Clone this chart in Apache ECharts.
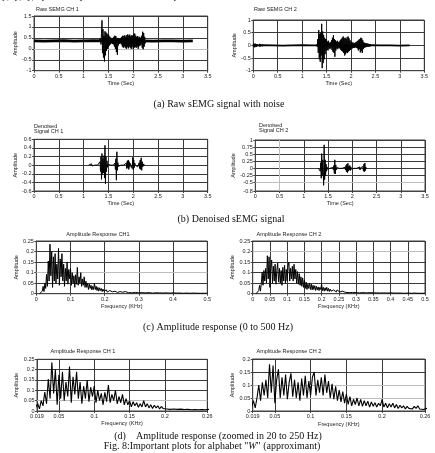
<!DOCTYPE html>
<html>
<head>
<meta charset="utf-8">
<title>sEMG plots - alphabet W</title>
<script src="https://cdn.jsdelivr.net/npm/echarts@6/dist/echarts.min.js"></script>
<style>
  html, body { margin: 0; padding: 0; background: #fff; }
  #chart { width: 435px; height: 453px; }
</style>
</head>
<body>
<div id="chart"></div>
<script>
// ---------- data ----------
// raw / denoised signals: sampled every 10 ms from the given start time (s)
var dt = 0.01;

var baseTimes = [0, 0.2, 0.4, 0.6, 0.8, 1.0, 1.2, 1.4, 1.6, 1.8, 2.0, 2.2, 2.4, 2.6, 2.8, 3.0, 3.2];
var raw1Base = [0.36, 0.35, 0.36, 0.37, 0.35, 0.36, 0.37, 0.36, 0.35, 0.36, 0.37, 0.36, 0.35, 0.36, 0.36, 0.35, 0.36];
var raw2Base = [0.00, 0.01, 0.00, -0.01, 0.00, 0.01, 0.00, 0.00, 0.01, 0.00, -0.01, 0.00, 0.01, 0.00, 0.00, -0.01, 0.00];

var raw1Start = 1.30;
var raw1Burst = [
  0.36, 0.30, 0.44, 0.28, 0.48, 0.20, 0.70, 1.30, -0.20, 0.90,
  -0.40, 0.60, -0.58, 0.80, -0.30, 0.75, -0.10, 0.70, 0.00, 0.65,
  0.10, 0.60, 0.15, 0.55, 0.20, 0.50, 0.25, 0.45, 0.22, 0.50,
  0.20, 0.55, 0.10, 0.60, 0.00, 0.58, -0.15, 0.45, -0.28, 0.50,
  0.15, 0.48, 0.22, 0.45, 0.25, 0.50, 0.20, 0.55, 0.10, 0.60,
  0.05, 0.58, 0.10, 0.62, 0.05, 0.55, 0.00, 0.62, 0.08, 0.66,
  0.02, 0.60, 0.10, 0.65, 0.05, 0.58, 0.00, 0.62, 0.10, 0.60,
  -0.02, 0.68, 0.05, 0.70, 0.08, 0.60, 0.05, 0.55, 0.10, 0.58,
  0.00, 0.52, 0.12, 0.55, 0.15, 0.50, 0.20, 0.60, 0.05, 0.78,
  -0.02, 0.72, 0.10, 0.55, 0.25, 0.40
];

var raw2OnsetStart = 0;
var raw2Onset = [0.08, -0.07, 0.06, -0.08, 0.07, -0.05, 0.05, -0.06, 0.04, -0.03, 0.03,
  0.05, -0.04, 0.06, -0.05, 0.04, -0.03, 0.05, -0.04, 0.03, -0.02];

var raw2Start = 1.30;
var raw2Burst = [
  0.05, -0.06, 0.25, -0.30, 0.60, -0.55, 0.45, -0.65, 0.50, -0.40,
  0.85, -0.90, 0.55, -0.70, 0.40, -0.55, 0.30, -0.35, 0.25, -0.20,
  0.22, -0.18, 0.15, -0.20, 0.18, -0.12, 0.10, -0.15, 0.12, -0.10,
  0.20, -0.18, 0.30, -0.25, 0.40, -0.30, 0.25, -0.45, 0.20, -0.20,
  0.15, -0.12, 0.18, -0.15, 0.12, -0.10, 0.15, -0.12, 0.20, -0.18,
  0.25, -0.22, 0.30, -0.25, 0.35, -0.30, 0.28, -0.40, 0.30, -0.35,
  0.25, -0.28, 0.32, -0.30, 0.35, -0.25, 0.28, -0.22, 0.20, -0.18,
  0.15, -0.12, 0.10, -0.12, 0.12, -0.10, 0.08, -0.10, 0.10, -0.08,
  0.12, -0.10, 0.15, -0.12, 0.18, -0.20, 0.22, -0.15, 0.25, -0.28,
  0.30, -0.22, 0.28, -0.30, 0.20, -0.15, 0.12, -0.10, 0.10, -0.08,
  0.08, -0.07, 0.08, -0.06, 0.07, -0.05, 0.06, -0.05, 0.05, -0.04,
  0.04
];

var den1Start = 1.10;
var den1 = [
  0, 0, 0, 0, 0, 0, 0.03, -0.02, 0, 0,
  0, 0, 0, 0, 0, 0, 0, 0, 0, 0,
  0, 0, 0, 0.08, -0.15, 0.20, -0.33, 0.27, -0.20, 0.15,
  -0.18, 0.22, -0.30, 0.46, -0.43, 0.20, -0.15, 0.10, -0.05, 0.02,
  0, 0, 0, 0, 0, 0, 0, 0, 0, 0,
  0, 0, 0, 0.05, -0.10, 0.15, -0.35, 0.31, -0.12, 0.06,
  -0.03, 0, 0, 0, 0, 0, 0, 0, 0, 0,
  0, 0, 0, 0, 0, 0, 0.05, -0.08, 0.10, -0.06,
  0.12, -0.10, 0.08, -0.05, 0.04, 0, 0, 0.06, -0.08, 0.18,
  -0.10, 0.12, -0.06, 0.05, 0, 0, 0, 0, 0.03, -0.04,
  0, 0, 0.06, -0.08, 0.12, -0.10, 0.17, -0.12, 0.08, -0.04,
  0.03, -0.02, 0.02, -0.02, 0, 0
];

var den2Start = 1.30;
var den2 = [
  0, 0.02, -0.03, 0.05, -0.10, 0.20, -0.35, 0.52, -0.25, 0.30,
  0.25, -0.60, 0.83, -0.40, 0.30, -0.25, 0.15, -0.10, 0.05, -0.03,
  0, 0, 0, 0, 0, 0, 0, 0, 0, 0,
  0.03, -0.05, 0.10, -0.18, 0.30, -0.20, 0.12, -0.06, 0.03, 0,
  0, 0, 0, 0, 0, 0, 0, 0, 0, 0,
  0, 0, 0, 0, 0, 0.04, -0.06, 0.10, -0.12, 0.15,
  -0.15, 0.18, -0.10, 0.08, -0.06, 0.10, -0.08, 0.05, -0.03, 0,
  0, 0, 0, 0, 0, 0, 0, 0, 0, 0,
  0, 0, 0, 0, 0, 0.05, -0.06, 0.02, 0, 0,
  0, 0, 0.06, -0.10, 0.15, -0.12, 0.19, -0.08, 0.04, -0.02,
  0
];

// amplitude spectra (KHz): fine part every 2.5 Hz from 10 Hz, tail every 5 Hz from 265 Hz
var specStart = 0.01, specStep = 0.0025;
var tailStart = 0.265, tailStep = 0.005;

var spec1 = [
  0.000, 0.002, 0.005, 0.012, 0.035, 0.010, 0.050, 0.025, 0.092, 0.035,
  0.155, 0.060, 0.235, 0.085, 0.200, 0.030, 0.175, 0.060, 0.190, 0.050,
  0.140, 0.070, 0.215, 0.040, 0.165, 0.080, 0.190, 0.060, 0.140, 0.035,
  0.120, 0.060, 0.150, 0.045, 0.115, 0.070, 0.120, 0.040, 0.100, 0.050,
  0.085, 0.030, 0.090, 0.045, 0.125, 0.040, 0.080, 0.050, 0.100, 0.035,
  0.070, 0.040, 0.080, 0.030, 0.060, 0.030, 0.050, 0.020, 0.045, 0.025,
  0.040, 0.018, 0.035, 0.020, 0.050, 0.020, 0.035, 0.015, 0.030, 0.012,
  0.028, 0.015, 0.025, 0.010, 0.022, 0.012, 0.020, 0.010, 0.018, 0.008,
  0.016, 0.010, 0.015, 0.008, 0.014, 0.009, 0.013, 0.007, 0.012, 0.008,
  0.011, 0.006, 0.012, 0.007, 0.010, 0.006, 0.011, 0.007, 0.009, 0.006,
  0.010
];
var tail1 = [
  0.009, 0.005, 0.010, 0.004, 0.008, 0.006, 0.009, 0.004, 0.008, 0.005,
  0.009, 0.004, 0.007, 0.005, 0.008, 0.003, 0.007, 0.004, 0.008, 0.004,
  0.007, 0.003, 0.006, 0.004, 0.007, 0.003, 0.006, 0.004, 0.006, 0.003,
  0.005, 0.003, 0.006, 0.002, 0.005, 0.003, 0.005, 0.002, 0.004, 0.003,
  0.005, 0.002, 0.004, 0.002, 0.004, 0.002, 0.003, 0.002
];

var spec2 = [
  0.000, 0.002, 0.006, 0.015, 0.040, 0.012, 0.050, 0.100, 0.040, 0.110,
  0.060, 0.120, 0.050, 0.180, 0.070, 0.175, 0.030, 0.120, 0.160, 0.050,
  0.130, 0.060, 0.140, 0.045, 0.110, 0.145, 0.055, 0.120, 0.050, 0.110,
  0.040, 0.125, 0.060, 0.135, 0.050, 0.115, 0.060, 0.130, 0.150, 0.060,
  0.120, 0.070, 0.130, 0.060, 0.140, 0.070, 0.115, 0.050, 0.105, 0.045,
  0.095, 0.040, 0.080, 0.035, 0.075, 0.030, 0.065, 0.025, 0.055, 0.020,
  0.045, 0.025, 0.050, 0.020, 0.045, 0.018, 0.040, 0.020, 0.038, 0.015,
  0.035, 0.018, 0.032, 0.015, 0.030, 0.020, 0.045, 0.015, 0.030, 0.012,
  0.028, 0.015, 0.030, 0.012, 0.025, 0.010, 0.022, 0.012, 0.020, 0.008,
  0.018, 0.010, 0.016, 0.008, 0.018, 0.010, 0.020, 0.008, 0.014, 0.006,
  0.012
];
var tail2 = [
  0.012, 0.006, 0.014, 0.005, 0.011, 0.006, 0.012, 0.005, 0.010, 0.004,
  0.011, 0.005, 0.009, 0.004, 0.010, 0.005, 0.009, 0.004, 0.008, 0.004,
  0.009, 0.003, 0.008, 0.004, 0.007, 0.003, 0.008, 0.004, 0.007, 0.003,
  0.006, 0.003, 0.007, 0.003, 0.006, 0.002, 0.006, 0.003, 0.005, 0.002,
  0.005, 0.003, 0.005, 0.002, 0.004, 0.002, 0.004, 0.002
];

// tick labels
var zoomTicks = [0.019, 0.05, 0.1, 0.15, 0.2, 0.26];
var den2Ticks = [-0.8, -0.5, -0.25, 0, 0.25, 0.5, 0.75, 1];

// ---------- helpers ----------
function sampled(t0, step, vals) {
  return vals.map(function (v, i) { return [+(t0 + i * step).toFixed(5), v]; });
}
function paired(ts, vals) {
  return ts.map(function (t, i) { return [t, vals[i]]; });
}
var spectrum1 = sampled(specStart, specStep, spec1).concat(sampled(tailStart, tailStep, tail1));
var spectrum2 = sampled(specStart, specStep, spec2).concat(sampled(tailStart, tailStep, tail2));

var SANS = '"Liberation Sans", Arial, sans-serif';
var SERIF = '"Liberation Serif", "Times New Roman", serif';
var FS = 5.5;

// left, top, width, height of each plot area
var boxes = [
  [34, 16, 173.7, 54.7],
  [253.3, 20, 171, 50.7],
  [34, 139.3, 173.7, 51.7],
  [255.3, 140, 169.7, 51],
  [36.3, 241, 171, 52.7],
  [252.7, 241, 172.3, 52.7],
  [37, 359.3, 170.3, 51.7],
  [252.7, 359, 172.3, 52]
];

function axisBase(i, name, gap) {
  return {
    type: 'value', gridIndex: i, name: name, nameLocation: 'middle', nameGap: gap,
    nameTextStyle: { fontSize: FS, color: '#222', fontFamily: SANS },
    axisLine: { show: true, onZero: false, lineStyle: { color: '#444', width: 1 } },
    axisTick: { show: true, length: 2, lineStyle: { color: '#444', width: 1 } },
    axisLabel: { fontSize: FS, color: '#222', margin: 2.5, fontFamily: SANS },
    splitLine: { show: true, lineStyle: { color: '#3a3a3a', width: 1 } }
  };
}
function xAx(i, name, gap, min, max, interval, custom) {
  var a = axisBase(i, name, gap);
  a.min = min; a.max = max;
  if (custom) { a.axisTick.customValues = custom; a.axisLabel.customValues = custom; }
  else a.interval = interval;
  return a;
}
function yAx(i, gap, min, max, interval, custom) {
  var a = axisBase(i, 'Amplitude', gap);
  a.min = min; a.max = max;
  if (custom) { a.axisTick.customValues = custom; a.axisLabel.customValues = custom; }
  else a.interval = interval;
  return a;
}

function lightLines(list) {
  return {
    silent: true, symbol: 'none', z: 1, label: { show: false },
    lineStyle: { color: '#bdbdbd', width: 1, type: 'solid' },
    data: list
  };
}
function line(i, data, width, marks) {
  var s = {
    type: 'line', xAxisIndex: i, yAxisIndex: i, data: data,
    symbol: 'none', showSymbol: false, silent: true, z: 3,
    lineStyle: { color: '#000', width: width }
  };
  if (marks) s.markLine = lightLines(marks);
  return s;
}

function txt(x, y, text, align, size, family, extra) {
  var st = {
    text: text, x: x, y: y, textAlign: align || 'left', textVerticalAlign: 'middle',
    fontSize: size, fontFamily: family, fill: '#222'
  };
  if (extra) for (var k in extra) st[k] = extra[k];
  return { type: 'text', silent: true, style: st };
}

var option = {
  animation: false,
  backgroundColor: '#fff',
  grid: boxes.map(function (b) {
    return { left: b[0], top: b[1], width: b[2], height: b[3], show: true,
             borderColor: '#444', borderWidth: 1, backgroundColor: '#fff' };
  }),
  xAxis: [
    xAx(0, 'Time (Sec)', 9.5, 0, 3.5, 0.5),
    xAx(1, 'Time (Sec)', 8, 0, 3.5, 0.5),
    xAx(2, 'Time (Sec)', 7.3, 0, 3.5, 0.5),
    xAx(3, 'Time (Sec)', 7.3, 0, 3.5, 0.5),
    xAx(4, 'Frequency (KHz)', 9.3, 0, 0.5, 0.1),
    xAx(5, 'Frequency (KHz)', 9.3, 0, 0.5, 0.05),
    xAx(6, 'Frequency (KHz)', 9, 0.019, 0.26, null, zoomTicks),
    xAx(7, 'Frequency (KHz)', 10, 0.019, 0.26, null, zoomTicks)
  ],
  yAxis: [
    yAx(0, 10, -1, 1.5, 0.5),
    yAx(1, 14.6, -1, 1, 0.5),
    yAx(2, 10, -0.6, 0.6, 0.2),
    yAx(3, 16.6, -0.8, 1, null, den2Ticks),
    yAx(4, 12.6, 0, 0.25, 0.05),
    yAx(5, 14, 0, 0.25, 0.05),
    yAx(6, 13.3, 0, 0.25, 0.05),
    yAx(7, 15.4, 0, 0.2, 0.05)
  ],
  series: [
    line(0, paired(baseTimes, raw1Base), 2.8, [{ yAxis: 0 }]),
    line(0, sampled(raw1Start, dt, raw1Burst), 1),
    line(1, paired(baseTimes, raw2Base), 1.6),
    line(1, sampled(raw2OnsetStart, dt, raw2Onset), 0.9),
    line(1, sampled(raw2Start, dt, raw2Burst), 1),
    line(2, sampled(den1Start, dt, den1), 1),
    line(3, sampled(den2Start, dt, den2), 1, [{ yAxis: -0.5 }, { xAxis: 0.5 }]),
    line(4, spectrum1, 1, [{ yAxis: 0.1 }]),
    line(5, spectrum2, 1, [{ yAxis: 0.2 }]),
    line(6, spectrum1, 1.1, [{ yAxis: 0.05 }]),
    line(7, spectrum2, 1.1, [{ yAxis: 0.1 }, { yAxis: 0.05 }])
  ],
  graphic: [
    txt(2, -4, 'p, ty, ry, ky and "r" join vowel "A" similarly.', 'left', 10, SERIF),
    txt(36, 9, 'Raw SEMG CH 1', 'left', FS, SANS),
    txt(254, 9, 'Raw SEMG CH 2', 'left', FS, SANS),
    txt(34, 126.7, 'Denoised', 'left', FS, SANS),
    txt(34, 131, 'Signal CH 1', 'left', FS, SANS),
    txt(259, 125.7, 'Denoised', 'left', FS, SANS),
    txt(259, 130, 'Signal CH 2', 'left', FS, SANS),
    txt(98, 234.3, 'Amplitude Response CH1', 'center', FS, SANS),
    txt(289, 234.3, 'Amplitude Response CH 2', 'center', FS, SANS),
    txt(83, 351, 'Amplitude Response CH 1', 'center', FS, SANS),
    txt(289, 351, 'Amplitude Response CH 2', 'center', FS, SANS),
    txt(219, 104.5, '(a) Raw sEMG signal with noise', 'center', 10, SERIF, { fill: '#111' }),
    txt(231, 219, '(b) Denoised sEMG signal', 'center', 10, SERIF, { fill: '#111' }),
    txt(218, 327, '(c) Amplitude response (0 to 500 Hz)', 'center', 10, SERIF, { fill: '#111' }),
    txt(218, 436, '(d)    Amplitude response (zoomed in 20 to 250 Hz)', 'center', 10, SERIF, { fill: '#111' }),
    txt(212, 446, 'Fig. 8:Important plots for alphabet "{i|W}" (approximant)', 'center', 10, SERIF, {
      fill: '#111',
      rich: { i: { fontStyle: 'italic', fontSize: 10, fontFamily: SERIF, fill: '#111' } }
    })
  ]
};

var myChart = echarts.init(document.getElementById('chart'), null, { renderer: 'canvas' });
myChart.setOption(option);
</script>
</body>
</html>
